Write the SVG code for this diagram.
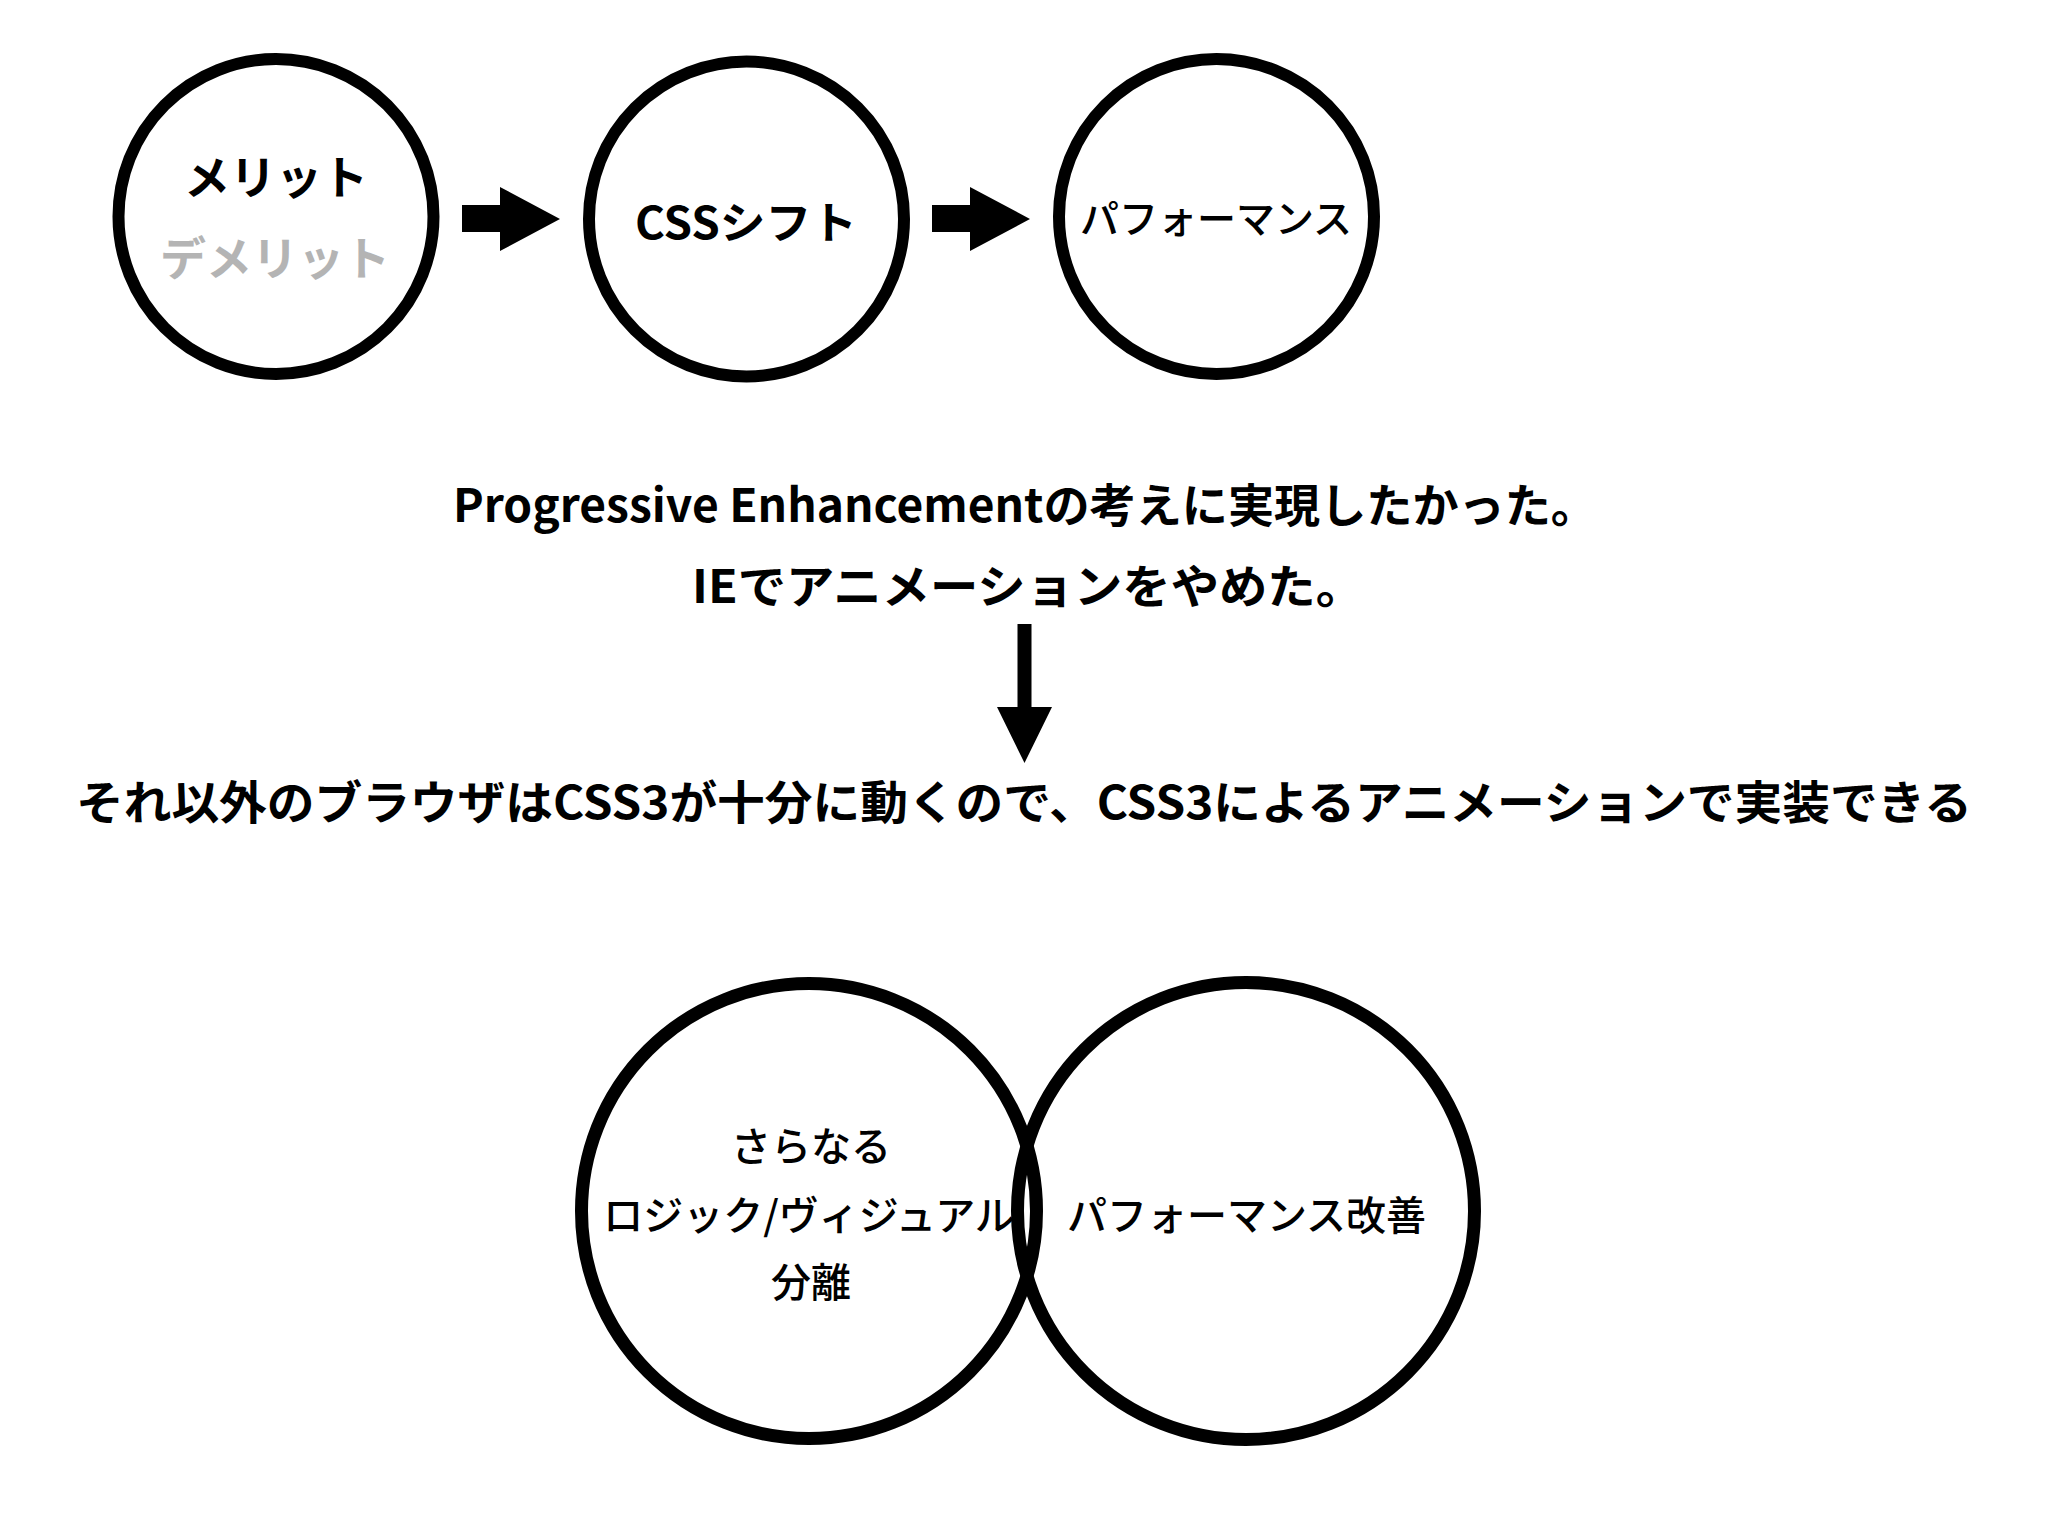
<svg xmlns="http://www.w3.org/2000/svg" width="2048" height="1536" viewBox="0 0 2048 1536">
<style>
  .ring { fill: none; stroke: #000; stroke-width: 12; }
  .ring2 { fill: none; stroke: #000; stroke-width: 13; }
  .t { font-family: "Noto Sans CJK JP", "Noto Sans", sans-serif; font-weight: 700; fill: #000; text-anchor: middle; }
  .m { font-weight: 500; }
  .gray { fill: #b4b4b4; }
  .arrow { fill: #000; stroke: none; }
</style>
<rect width="2048" height="1536" fill="#fff"/>

<g id="node-merit">
  <circle class="ring" cx="276" cy="216.5" r="157.5"/>
  <text class="t" x="276" y="194" font-size="46">メリット</text>
  <text class="t gray" x="275" y="275" font-size="46">デメリット</text>
</g>

<g id="node-css-shift">
  <circle class="ring" cx="746.5" cy="219" r="157.5"/>
  <text class="t" x="746" y="239" font-size="44" textLength="222" lengthAdjust="spacingAndGlyphs">CSSシフト</text>
</g>

<g id="node-performance">
  <circle class="ring" cx="1216.5" cy="216.5" r="157.5"/>
  <text class="t m" x="1216" y="233" font-size="39">パフォーマンス</text>
</g>

<g id="node-statement">
  <text class="t" x="1025" y="522" font-size="46" textLength="1144" lengthAdjust="spacingAndGlyphs">Progressive Enhancementの考えに実現したかった。</text>
  <text class="t" x="1028" y="603" font-size="46" textLength="672" lengthAdjust="spacingAndGlyphs">IEでアニメーションをやめた。</text>
</g>

<g id="node-result">
  <text class="t" x="1024" y="819" font-size="46" textLength="1896" lengthAdjust="spacingAndGlyphs">それ以外のブラウザはCSS3が十分に動くので、CSS3によるアニメーションで実装できる</text>
</g>

<g id="node-separation">
  <circle class="ring2" cx="809" cy="1211" r="227.5"/>
  <text class="t m" x="811" y="1161" font-size="40">さらなる</text>
  <text class="t m" x="809" y="1230" font-size="40">ロジック/ヴィジュアル</text>
  <text class="t m" x="811" y="1297" font-size="40">分離</text>
</g>

<g id="node-perf-improve">
  <circle class="ring2" cx="1246" cy="1211" r="228.5"/>
  <text class="t m" x="1246.5" y="1230" font-size="40">パフォーマンス改善</text>
</g>

<g id="connectors">
  <path class="arrow" d="M462 205 H500 V187 L560 219 L500 251 V232 H462 Z"/>
  <path class="arrow" d="M932 205 H970 V187 L1030 219 L970 251 V232 H932 Z"/>
  <path class="arrow" d="M1017.5 624 H1031.5 V707 H1052 L1024.5 763 L997 707 H1017.5 Z"/>
</g>
</svg>
